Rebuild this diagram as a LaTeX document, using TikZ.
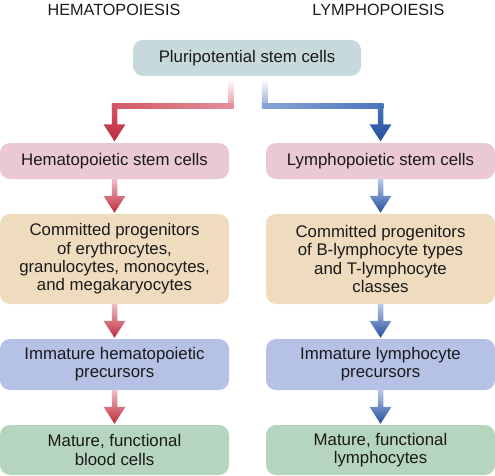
\documentclass[tikz,border=0pt]{standalone}
\usepackage{fontspec}
\setmainfont{Liberation Sans}
\usetikzlibrary{calc}
\definecolor{boxgray}{HTML}{C8D9DC}
\definecolor{boxpink}{HTML}{EBC9D4}
\definecolor{boxtan}{HTML}{EFDCBF}
\definecolor{boxblue}{HTML}{B5C2E6}
\definecolor{boxgreen}{HTML}{B5D5BF}
\definecolor{redmid}{HTML}{E4909B}
\definecolor{redmid2}{HTML}{D35668}
\definecolor{reddark}{HTML}{BF2A3C}
\definecolor{redtop}{HTML}{EDBDC4}
\definecolor{bluemid}{HTML}{8AA4D6}
\definecolor{bluemid2}{HTML}{4A74BE}
\definecolor{bluedark}{HTML}{234FA0}
\definecolor{bluetop}{HTML}{B9CAE8}
\definecolor{txt}{HTML}{1A1A1A}
\newcommand\vshadearrow[4]{%
  \shade[top color=#3, bottom color=#4]
    ($(#1)+(-2.75,0)$) -- ($(#2)+(-2.75,-17)$) -- ($(#2)+(-11,-17)$) -- (#2)
    -- ($(#2)+(11,-17)$) -- ($(#2)+(2.75,-17)$) -- ($(#1)+(2.75,0)$) -- cycle;}
\begin{document}
\begin{tikzpicture}[x=1pt,y=-1pt,
  every node/.style={text=txt, font=\fontsize{16.8}{18.3}\selectfont},
  cell/.style={rounded corners=10pt, minimum width=229pt, align=center, inner sep=0pt},
  title/.style={font=\fontsize{16.2}{18}\selectfont}]
\useasboundingbox (0,0) rectangle (495,476);
\node[title] (th) at (114,9.5) {HEMATOPOIESIS};
\node[title] (tl) at (378.5,9.5) {LYMPHOPOIESIS};
\node[cell, fill=boxgray, minimum width=228pt, minimum height=36pt] (p) at (247,58) {Pluripotential stem cells};
\node[cell, fill=boxpink, minimum height=36pt] (h1) at (114.5,161) {Hematopoietic stem cells};
\node[cell, fill=boxpink, minimum height=36pt] (l1) at (380.5,161) {Lymphopoietic stem cells};
\node[cell, fill=boxtan, minimum height=90pt] (h2) at (114.5,259) {Committed progenitors\\of erythrocytes,\\granulocytes, monocytes,\\and megakaryocytes};
\node[cell, fill=boxtan, minimum height=90pt] (l2) at (380.5,259) {Committed progenitors\\of B-lymphocyte types\\and T-lymphocyte\\classes};
\node[cell, fill=boxblue, minimum height=51pt] (h3) at (114.5,364.5) {Immature hematopoietic\\precursors};
\node[cell, fill=boxblue, minimum height=51pt] (l3) at (380.5,364.5) {Immature lymphocyte\\precursors};
\node[cell, fill=boxgreen, minimum height=50pt] (h4) at (114.5,450) {Mature, functional\\blood cells};
\node[cell, fill=boxgreen, minimum height=50pt] (l4) at (380.5,450) {Mature, functional\\lymphocytes};
% elbow connectors from the pluripotential box
\coordinate (rs) at ($(p.south)+(-16,3)$);
\coordinate (rc1) at ($(p.south)+(-16,30)$);
\coordinate (rc2) at (h1.north |- rc1);
\coordinate (rt) at ($(h1.north)+(0,-1.5)$);
\coordinate (bs) at ($(p.south)+(17.5,3)$);
\coordinate (bc1) at ($(p.south)+(17.5,30)$);
\coordinate (bc2) at (l1.north |- bc1);
\coordinate (bt) at ($(l1.north)+(0,-1.5)$);
% red elbow
\shade[top color=white, bottom color=redmid] ($(rs)+(-2.75,0)$) rectangle ($(rc1)+(2.75,2.75)$);
\shade[left color=redmid2, right color=redmid] ($(rc2)+(-2.75,-2.75)$) rectangle ($(rc1)+(2.75,2.75)$);
\vshadearrow{$(rc2)+(0,-2.75)$}{rt}{redmid2}{reddark}
% blue elbow
\shade[top color=white, bottom color=bluemid] ($(bs)+(-2.75,0)$) rectangle ($(bc1)+(2.75,2.75)$);
\shade[left color=bluemid, right color=bluemid2] ($(bc1)+(-2.75,-2.75)$) rectangle ($(bc2)+(2.75,2.75)$);
\vshadearrow{$(bc2)+(0,-2.75)$}{bt}{bluemid2}{bluedark}
% straight arrows
\coordinate (t2h) at ($(h2.north)+(0,-1)$);
\coordinate (t3h) at ($(h3.north)+(0,-1)$);
\coordinate (t4h) at ($(h4.north)+(0,-1)$);
\coordinate (t2l) at ($(l2.north)+(0,-1)$);
\coordinate (t3l) at ($(l3.north)+(0,-1)$);
\coordinate (t4l) at ($(l4.north)+(0,-1)$);
\vshadearrow{h1.south}{t2h}{redtop}{reddark}
\vshadearrow{h2.south}{t3h}{redtop}{reddark}
\vshadearrow{h3.south}{t4h}{redtop}{reddark}
\vshadearrow{l1.south}{t2l}{bluetop}{bluedark}
\vshadearrow{l2.south}{t3l}{bluetop}{bluedark}
\vshadearrow{l3.south}{t4l}{bluetop}{bluedark}
\end{tikzpicture}
\end{document}
